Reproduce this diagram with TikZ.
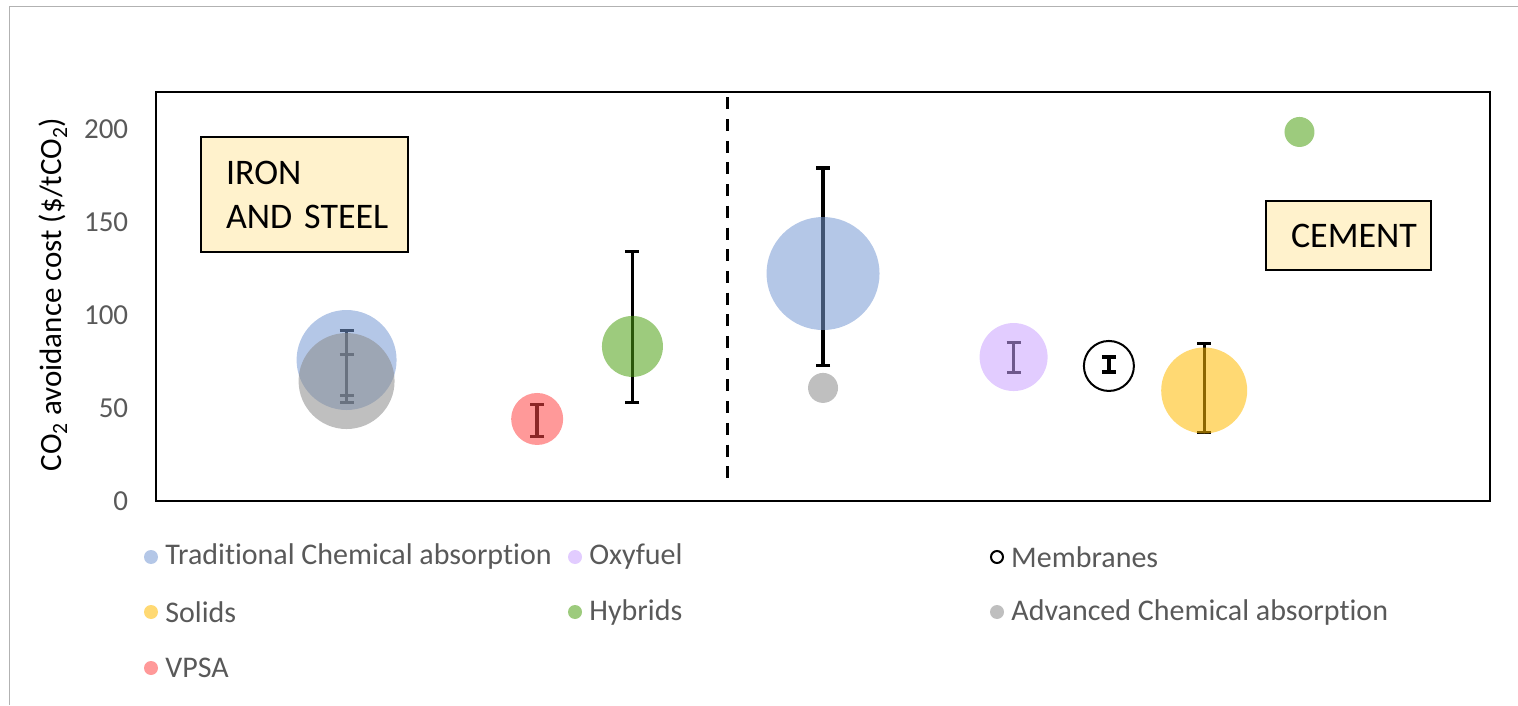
\documentclass[tikz,border=0pt]{standalone}
\usepackage{fontspec}
\setmainfont{Carlito}[Ligatures={NoCommon,NoRare}]
\usetikzlibrary{arrows.meta, positioning}

\definecolor{tcaBlue}{RGB}{119,153,211}
\definecolor{advGray}{RGB}{139,139,139}
\definecolor{vpsaRed}{RGB}{255,70,70}
\definecolor{hybGreen}{RGB}{77,160,19}
\definecolor{oxyPurple}{RGB}{202,162,255}
\definecolor{solYellow}{RGB}{255,186,0}
\definecolor{boxYellow}{RGB}{255,242,204}
\definecolor{txtGray}{RGB}{89,89,89}

\begin{document}
\begin{tikzpicture}[x=1pt, y=1pt,
    bubble/.style={circle, draw=none, fill opacity=0.55, inner sep=0pt},
    errbar/.style={line width=3.4pt, {Bar[width=14pt]}-{Bar[width=14pt]}},
    sector/.style={draw=black, line width=1.5pt, fill=boxYellow, inner sep=0pt, align=left,
        font=\fontsize{36}{44}\selectfont},
    legdot/.style={circle, inner sep=0pt, minimum size=14pt, fill opacity=0.55},
    legtext/.style={right=7pt of #1, inner sep=0pt, text=txtGray, font=\fontsize{30}{35}\selectfont},
    tick/.style={anchor=east, inner sep=0pt, text=txtGray, font=\fontsize{29}{34}\selectfont}]
    \useasboundingbox (0,0) rectangle (1518,705);

    % Outer frame (only top and left visible)
    \draw[gray!60, line width=1pt] (9,0) -- (9,698) -- (1518,698);

    \begin{scope}[shift={(156,204)}, x=95.29pt, y=1.86pt]
        % Plot area and axis labels
        \draw[line width=2pt] (0,0) rectangle (14,220);
        \foreach \v in {0,50,...,200} {
            \node[tick] (t\v) at (-0.29,\v) {\v};
        }
        \node[rotate=90, font=\fontsize{31}{36}\selectfont] (ytitle) at (-1.08,111)
            {CO\textsubscript{2} avoidance cost (\$/tCO\textsubscript{2})};

        % Iron and steel | cement divider
        \draw[line width=3pt, dash pattern=on 12pt off 9.7pt] (6,217) -- (6,8.6);

        % Error bars (behind the bubbles)
        \foreach \x/\lo/\hi in {2/55.9/92.5, 2/52.2/79.6, 4/33.9/52.7, 5/52.2/135,
                                7/72/180, 9/68.3/86, 11/36/85.5} {
            \draw[errbar] (\x,\lo) -- (\x,\hi);
        }
        \draw[errbar, line width=4pt] (10,68.3) -- (10,78.5);

        % Iron and steel bubbles
        \node[bubble, fill=tcaBlue, minimum size=100pt] (tca-iron) at (2,75.8) {};
        \node[bubble, fill=advGray, minimum size=96pt] (adv-iron) at (2,64.5) {};
        \node[bubble, fill=vpsaRed, minimum size=52pt] (vpsa-iron) at (4,44.1) {};
        \node[bubble, fill=hybGreen, minimum size=61pt] (hyb-iron) at (5,83.1) {};

        % Cement bubbles
        \node[bubble, fill=tcaBlue, minimum size=113pt] (tca-cem) at (7,122.3) {};
        \node[bubble, fill=advGray, minimum size=30pt] (adv-cem) at (7,60.8) {};
        \node[bubble, fill=oxyPurple, minimum size=68pt] (oxy-cem) at (9,77.4) {};
        \node[circle, draw=black, line width=2pt, minimum size=50pt, inner sep=0pt] (mem-cem) at (10,72.6) {};
        \node[bubble, fill=solYellow, minimum size=86pt] (sol-cem) at (11,59.4) {};
        \node[bubble, fill=hybGreen, minimum size=30pt] (hyb-cem) at (12,198.4) {};
    \end{scope}

    % Sector labels
    \node[sector, minimum width=207pt, minimum height=115pt, text width=207pt] (iron) at (304.5,510.5)
        {\hspace*{25pt}IRON\\\hspace*{25pt}AND STEEL};
    \node[sector, minimum width=165pt, minimum height=69pt, text width=165pt] (cement) at (1348.5,469.5)
        {\hspace*{25pt}CEMENT};

    % Legend
    \foreach \n/\c/\x/\y/\t in {l1/tcaBlue/151/148/Traditional Chemical absorption,
                                l2/oxyPurple/575/148/Oxyfuel,
                                l4/solYellow/151/93/Solids,
                                l5/hybGreen/575/93/Hybrids,
                                l6/advGray/997/93/Advanced Chemical absorption,
                                l7/vpsaRed/151/37/VPSA} {
        \node[legdot, fill=\c] (\n) at (\x,\y) {};
        \node[legtext=\n] (\n-txt) {\t};
    }
    \node[circle, draw=black, line width=2pt, minimum size=12pt, inner sep=0pt] (l3) at (997,148) {};
    \node[legtext=l3] (l3-txt) {Membranes};
\end{tikzpicture}
\end{document}
